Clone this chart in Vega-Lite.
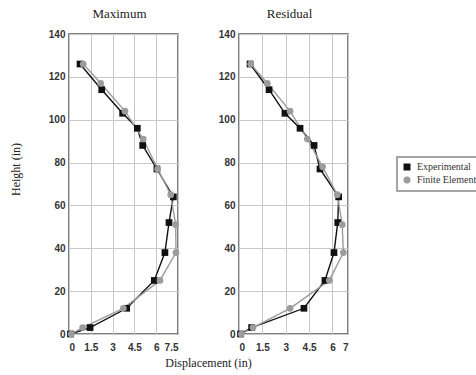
{
  "$schema": "https://vega.github.io/schema/vega-lite/v6.json",
  "padding": {"left": 8, "top": 7, "right": 5, "bottom": 5},
  "background": "white",
  "data": {"values": [
    {"panel": "Maximum", "series": "Experimental", "height": 126, "disp": 0.76},
    {"panel": "Maximum", "series": "Experimental", "height": 114, "disp": 2.25},
    {"panel": "Maximum", "series": "Experimental", "height": 103, "disp": 3.69},
    {"panel": "Maximum", "series": "Experimental", "height": 96, "disp": 4.7},
    {"panel": "Maximum", "series": "Experimental", "height": 88, "disp": 5.07},
    {"panel": "Maximum", "series": "Experimental", "height": 77, "disp": 6.05},
    {"panel": "Maximum", "series": "Experimental", "height": 64, "disp": 7.18},
    {"panel": "Maximum", "series": "Experimental", "height": 52, "disp": 6.88},
    {"panel": "Maximum", "series": "Experimental", "height": 38, "disp": 6.6},
    {"panel": "Maximum", "series": "Experimental", "height": 25, "disp": 5.87},
    {"panel": "Maximum", "series": "Experimental", "height": 12, "disp": 3.97},
    {"panel": "Maximum", "series": "Experimental", "height": 3, "disp": 1.45},
    {"panel": "Maximum", "series": "Experimental", "height": 0, "disp": 0.1},
    {"panel": "Maximum", "series": "Finite Element", "height": 126, "disp": 0.98},
    {"panel": "Maximum", "series": "Finite Element", "height": 117, "disp": 2.18},
    {"panel": "Maximum", "series": "Finite Element", "height": 104, "disp": 3.85},
    {"panel": "Maximum", "series": "Finite Element", "height": 91, "disp": 5.11},
    {"panel": "Maximum", "series": "Finite Element", "height": 77, "disp": 6.1},
    {"panel": "Maximum", "series": "Finite Element", "height": 65, "disp": 7.0},
    {"panel": "Maximum", "series": "Finite Element", "height": 51, "disp": 7.34},
    {"panel": "Maximum", "series": "Finite Element", "height": 38, "disp": 7.36},
    {"panel": "Maximum", "series": "Finite Element", "height": 25, "disp": 6.26},
    {"panel": "Maximum", "series": "Finite Element", "height": 12, "disp": 3.74},
    {"panel": "Maximum", "series": "Finite Element", "height": 3, "disp": 0.94},
    {"panel": "Maximum", "series": "Finite Element", "height": 0, "disp": 0.15},
    {"panel": "Residual", "series": "Experimental", "height": 126, "disp": 0.71},
    {"panel": "Residual", "series": "Experimental", "height": 114, "disp": 1.93},
    {"panel": "Residual", "series": "Experimental", "height": 103, "disp": 2.95},
    {"panel": "Residual", "series": "Experimental", "height": 96, "disp": 3.92},
    {"panel": "Residual", "series": "Experimental", "height": 88, "disp": 4.82},
    {"panel": "Residual", "series": "Experimental", "height": 77, "disp": 5.2},
    {"panel": "Residual", "series": "Experimental", "height": 64, "disp": 6.4},
    {"panel": "Residual", "series": "Experimental", "height": 52, "disp": 6.34},
    {"panel": "Residual", "series": "Experimental", "height": 38, "disp": 6.1},
    {"panel": "Residual", "series": "Experimental", "height": 25, "disp": 5.52},
    {"panel": "Residual", "series": "Experimental", "height": 12, "disp": 4.17},
    {"panel": "Residual", "series": "Experimental", "height": 3, "disp": 0.81},
    {"panel": "Residual", "series": "Experimental", "height": 0, "disp": 0.1},
    {"panel": "Residual", "series": "Finite Element", "height": 126, "disp": 0.75},
    {"panel": "Residual", "series": "Finite Element", "height": 117, "disp": 1.82},
    {"panel": "Residual", "series": "Finite Element", "height": 104, "disp": 3.28},
    {"panel": "Residual", "series": "Finite Element", "height": 91, "disp": 4.39},
    {"panel": "Residual", "series": "Finite Element", "height": 78, "disp": 5.37},
    {"panel": "Residual", "series": "Finite Element", "height": 65, "disp": 6.31},
    {"panel": "Residual", "series": "Finite Element", "height": 51, "disp": 6.63},
    {"panel": "Residual", "series": "Finite Element", "height": 38, "disp": 6.7},
    {"panel": "Residual", "series": "Finite Element", "height": 25, "disp": 5.8},
    {"panel": "Residual", "series": "Finite Element", "height": 12, "disp": 3.28},
    {"panel": "Residual", "series": "Finite Element", "height": 3, "disp": 0.9},
    {"panel": "Residual", "series": "Finite Element", "height": 0, "disp": 0.15}
  ]},
  "spacing": 61,
  "bounds": "flush",
  "hconcat": [
    {
      "width": 109,
      "height": 300,
      "title": {"text": "Maximum", "dx": -4},
      "transform": [{"filter": "datum.panel === 'Maximum'"}],
      "encoding": {
        "x": {"field": "disp", "type": "quantitative",
              "scale": {"domain": [0, 7.5], "nice": false, "zero": true},
              "axis": {"values": [0, 1.5, 3, 4.5, 6, 7.5], "format": ".1~f", "title": "Displacement (in)",
                       "titleX": 139, "titleY": 32, "titleBaseline": "alphabetic", "titleAlign": "center"}},
        "y": {"field": "height", "type": "quantitative",
              "scale": {"domain": [0, 140], "nice": false},
              "axis": {"values": [0, 20, 40, 60, 80, 100, 120, 140], "title": "Height (in)", "titleY": 135, "titlePadding": 26}},
        "color": {"field": "series", "type": "nominal",
                  "scale": {"domain": ["Experimental", "Finite Element"], "range": ["#111111", "#9c9c9c"]},
                  "legend": {"title": null}}
      },
      "layer": [
        {"mark": {"type": "line", "strokeWidth": 1.4}, "encoding": {"order": {"field": "height", "type": "quantitative"}}},
        {"mark": {"type": "point", "filled": true, "opacity": 1, "size": 45},
         "encoding": {"shape": {"field": "series", "type": "nominal",
                                "scale": {"domain": ["Experimental", "Finite Element"], "range": ["square", "circle"]},
                                "legend": {"title": null}}}}
      ]
    },
    {
      "width": 109,
      "height": 300,
      "title": {"text": "Residual", "dx": -4},
      "transform": [{"filter": "datum.panel === 'Residual'"}],
      "encoding": {
        "x": {"field": "disp", "type": "quantitative",
              "scale": {"domain": [0, 7], "nice": false, "zero": true},
              "axis": {"values": [0, 1.5, 3, 4.5, 6, 7], "format": ".1~f", "title": null}},
        "y": {"field": "height", "type": "quantitative",
              "scale": {"domain": [0, 140], "nice": false},
              "axis": {"values": [0, 20, 40, 60, 80, 100, 120, 140], "title": null}},
        "color": {"field": "series", "type": "nominal",
                  "scale": {"domain": ["Experimental", "Finite Element"], "range": ["#111111", "#9c9c9c"]},
                  "legend": {"title": null}}
      },
      "layer": [
        {"mark": {"type": "line", "strokeWidth": 1.4}, "encoding": {"order": {"field": "height", "type": "quantitative"}}},
        {"mark": {"type": "point", "filled": true, "opacity": 1, "size": 45},
         "encoding": {"shape": {"field": "series", "type": "nominal",
                                "scale": {"domain": ["Experimental", "Finite Element"], "range": ["square", "circle"]},
                                "legend": {"title": null}}}}
      ]
    }
  ],
  "config": {
    "view": {"stroke": "#555555", "strokeWidth": 1.5},
    "title": {"font": "Liberation Serif", "fontSize": 13, "fontWeight": "normal", "color": "#222222", "offset": 8},
    "axis": {
      "grid": true, "gridColor": "#c8c8c8", "gridWidth": 1,
      "ticks": false, "domain": false, "labelOverlap": false,
      "labelFont": "Liberation Sans", "labelFontSize": 10, "labelFontWeight": "bold", "labelColor": "#333333",
      "titleFont": "Liberation Serif", "titleFontSize": 12, "titleFontWeight": "normal", "titleColor": "#222222"
    },
    "axisX": {"labelPadding": 8},
    "axisY": {"labelPadding": 4},
    "legend": {
      "orient": "none", "legendX": 328, "legendY": 123,
      "strokeColor": "#888888", "strokeWidth": 1.5, "fillColor": "white",
      "padding": 5, "labelFont": "Liberation Serif", "labelFontSize": 10, "labelColor": "#333333",
      "symbolSize": 30, "rowPadding": 1, "labelOffset": 5
    }
  }
}
